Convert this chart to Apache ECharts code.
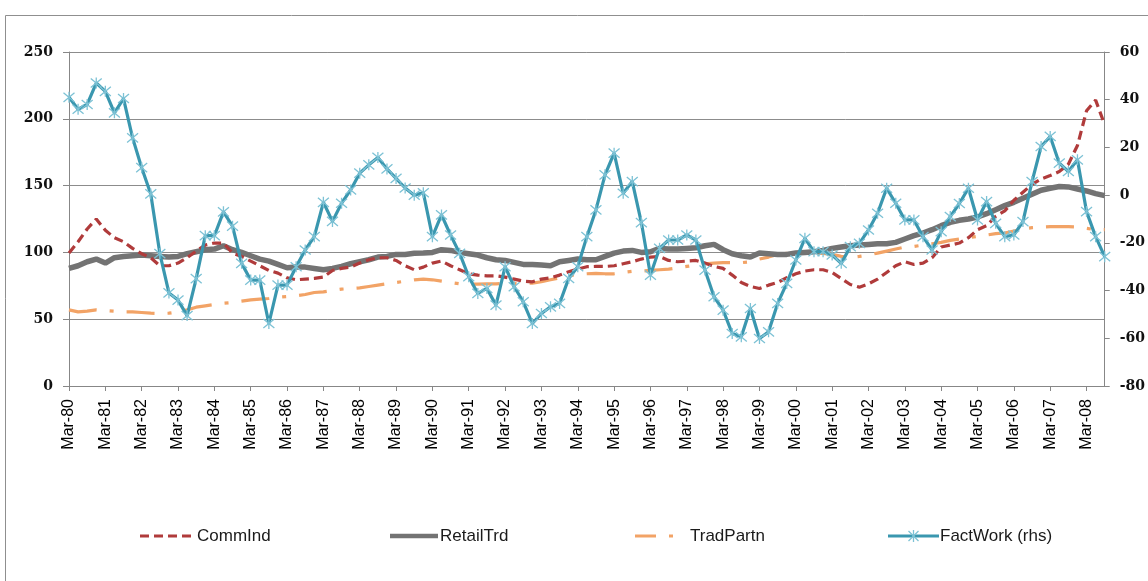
<!DOCTYPE html>
<html>
<head>
<meta charset="utf-8">
<script src="https://cdn.jsdelivr.net/npm/echarts@6/dist/echarts.min.js"></script>
<style>
  html, body { margin: 0; padding: 0; background: #fff; }
  #chart { width: 1148px; height: 581px; }
</style>
</head>
<body>
<div id="chart"></div>
<script>
// Quarterly labels, Mar-80 through Sep-08
const quarterMonths = ['Mar', 'Jun', 'Sep', 'Dec'];
const firstYear = 1980;
const lastYear = 2008;
const lastYearQuarters = 3;
const categories = [];
for (let y = firstYear; y <= lastYear; y++) {
  const n = y === lastYear ? lastYearQuarters : 4;
  for (let q = 0; q < n; q++) {
    categories.push(quarterMonths[q] + '-' + String(y % 100).padStart(2, '0'));
  }
}

// Left-hand scale series
const commInd = [
  99.5, 108, 117.5, 125, 116.5, 111, 108, 103, 99, 96,
  90, 90, 92, 96, 101, 105.5, 107, 107, 99.5, 97,
  93.5, 90, 86.5, 84.5, 81, 79.5, 80, 80.5, 81.5, 86.5,
  88, 89, 92, 94.5, 96, 96, 94, 90, 87, 89,
  92, 93.5, 90, 87, 84, 83, 82.5, 82.5, 81.5, 80,
  78.5, 78, 80, 81, 83, 85.5, 87.5, 89.3, 89.5, 89.5,
  90, 91.5, 93, 95, 96.5, 97, 94, 93, 93.5, 94,
  92, 89.5, 88, 83, 77.5, 74.5, 73, 75.5, 77.5, 81,
  84, 86, 87, 87, 85, 80.5, 76, 74, 76.5, 80,
  85, 90, 93, 91, 92, 96, 104, 105.5, 107, 111,
  117, 120, 127, 131, 139, 145, 151, 155, 157.5, 160.5,
  166, 180, 206, 214, 195.5
];
const retailTrd = [
  88, 90, 93, 95, 92, 96, 97, 97.5, 98, 97.5,
  97, 96.5, 97, 99, 100.5, 102, 102.5, 105, 102, 100,
  97.5, 95, 93.5, 91, 88.5, 89, 89, 88, 87, 88,
  89.5, 91.5, 93, 94.5, 96.5, 97, 98.5, 98.5, 99.3, 99.5,
  100, 102, 101.5, 100, 99, 98, 96, 94.5, 94, 92.5,
  91, 91, 90.5, 90, 93, 94, 95, 94.5, 94.5, 97,
  99.5, 101, 101.5, 100, 100.5, 103, 102.5, 102.5, 103, 103.5,
  105, 106, 102, 99, 97.5, 96.5, 99.5, 99, 98.5, 98.5,
  99.5, 100, 100.5, 101.5, 103, 104, 105, 105.5, 106, 106.5,
  106.5, 107.5, 110, 112.5, 114.5, 117, 120, 122.5, 124, 125,
  126.5, 129, 132, 135, 137.5, 140.5, 143.5, 146.5, 148, 149.3,
  149, 147.5, 146, 144, 142.5
];
const tradPartn = [
  57, 55.5, 56, 57, 56.5, 56, 55.5, 55.5, 55, 54.5,
  54.3, 54.5, 55.5, 57, 59, 60, 61, 62, 62.5, 63.5,
  64.5, 65, 65.5, 66.5, 67, 67.5, 68.5, 70, 70.5, 71.5,
  72.5, 73, 73.5, 74.5, 75.5, 76.5, 77.5, 78.5, 79.5, 80,
  79.5, 78.5, 77.5, 76.5, 76.3, 76.3, 76.5, 76.5, 76.8, 76.8,
  76.8, 77, 78, 79.5, 81, 82.5, 83.5, 84, 84.3, 84,
  84, 85, 85.8, 86, 86.5, 87, 87.5, 88.5, 89.5, 90.5,
  91.5, 92, 92.3, 92.3, 92.3, 93, 95, 96.5, 98.5, 99.3,
  99.3, 99.3, 99.3, 99.3, 98.5, 97, 96.3, 97, 98, 99.5,
  101, 102.5, 104, 104.5, 105.5, 106.5, 107.5, 109, 110, 111,
  112, 113, 114, 114.5, 116, 117.5, 118.5, 119, 119.3, 119.3,
  119.3, 119, 118, 117, 117
];
// Right-hand scale series
const factWork = [
  41, 36, 38, 47, 43.5, 34.5, 40.5, 24, 11.5, 0.5,
  -24.5, -41, -44, -50.5, -35, -17, -17, -7, -13, -28.6,
  -35.6, -35.6, -53.8, -37.7, -37.7, -30, -23, -17.4, -3, -11,
  -3.4, 2.2, 9.2, 12.7, 15.8, 11, 7, 3, 0, 1,
  -17.4, -8.3, -16.7, -24.4, -34.2, -41.2, -39.1, -46.1, -30, -38.4,
  -44.7, -53.8, -49.6, -46.8, -45.4, -34.9, -30, -17.4, -6.2, 8.5,
  17.6, 0.8, 5.7, -11.5, -33.5, -22.3, -18.8, -18.8, -16.7, -18.8,
  -31.4, -42.6, -48.2, -58, -59.4, -47.5, -60.1, -57.3, -45.4, -37,
  -27.2, -18.1, -23.7, -23.7, -25.1, -28.6, -21.6, -20.2, -14.6, -7.6,
  2.9, -3.4, -10.4, -10.4, -17.4, -23, -15.3, -9, -3.5, 2.9,
  -10.4, -2.7, -11.8, -17.4, -16.7, -11.1, 5.7, 20.4, 24.6, 13.4,
  9.9, 14.8, -6.9, -17.4, -25.8
];

const seriesNames = ['CommInd', 'RetailTrd', 'TradPartn', 'FactWork (rhs)'];

const C_RED = '#B03B3B';
const C_GRAY = '#737373';
const C_ORANGE = '#F2A366';
const C_TEAL = '#3A97AF';
const C_TEAL_MARK = '#7DC2D5';
const AXIS_GRAY = '#878787';
const STAR = 'path://M0,0L10,10M10,0L0,10M5,-1L5,11';

const axisFont = { fontFamily: 'DejaVu Serif', fontWeight: 'bold', fontSize: 14, color: '#111' };

const chart = echarts.init(document.getElementById('chart'), null, { renderer: 'canvas' });

const legendY = 536;
function legendText(x, text) {
  return { type: 'text', x: x, y: legendY, silent: true,
    style: { text: text, fontFamily: 'Liberation Sans', fontSize: 17, fill: '#1a1a1a',
      textAlign: 'left', textVerticalAlign: 'middle' } };
}
function legendLine(x1, x2, style) {
  return { type: 'line', silent: true,
    shape: { x1: x1, y1: legendY, x2: x2, y2: legendY }, style: style };
}
function legendStar(cx) {
  const s = { stroke: C_TEAL_MARK, lineWidth: 1.3 };
  return [
    { type: 'line', silent: true, shape: { x1: cx - 5, y1: legendY - 5, x2: cx + 5, y2: legendY + 5 }, style: s },
    { type: 'line', silent: true, shape: { x1: cx + 5, y1: legendY - 5, x2: cx - 5, y2: legendY + 5 }, style: s },
    { type: 'line', silent: true, shape: { x1: cx, y1: legendY - 6, x2: cx, y2: legendY + 6 }, style: s }
  ];
}

const option = {
  animation: false,
  backgroundColor: '#fff',
  grid: { left: 69, right: 43, top: 52, bottom: 195, containLabel: false },
  xAxis: {
    type: 'category',
    data: categories,
    boundaryGap: false,
    axisLine: { onZero: false, lineStyle: { color: AXIS_GRAY, width: 1 } },
    axisTick: { show: true, interval: 3, length: 5, lineStyle: { color: AXIS_GRAY } },
    axisLabel: { interval: 3, rotate: 90, margin: 13, fontFamily: 'Liberation Sans', fontSize: 16, color: '#000' },
    splitLine: { show: false }
  },
  yAxis: [
    {
      type: 'value', min: 0, max: 250, interval: 50, position: 'left',
      axisLine: { show: true, lineStyle: { color: AXIS_GRAY } },
      axisTick: { show: true, length: 6, lineStyle: { color: AXIS_GRAY } },
      axisLabel: Object.assign({ margin: 16 }, axisFont),
      splitLine: { show: true, lineStyle: { color: '#8c8c8c', width: 1 } }
    },
    {
      type: 'value', min: -80, max: 60, interval: 20, position: 'right',
      axisLine: { show: true, lineStyle: { color: AXIS_GRAY } },
      axisTick: { show: true, length: 5, lineStyle: { color: AXIS_GRAY } },
      axisLabel: Object.assign({ margin: 15 }, axisFont),
      splitLine: { show: false }
    }
  ],
  series: [
    {
      name: seriesNames[2], type: 'line', data: tradPartn, yAxisIndex: 0,
      symbol: 'none', lineStyle: { color: C_ORANGE, width: 3.2, type: [28, 13, 4, 13] },
      itemStyle: { color: C_ORANGE }, z: 2
    },
    {
      name: seriesNames[1], type: 'line', data: retailTrd, yAxisIndex: 0,
      symbol: 'none', lineStyle: { color: C_GRAY, width: 5.5 },
      itemStyle: { color: C_GRAY }, z: 3
    },
    {
      name: seriesNames[0], type: 'line', data: commInd, yAxisIndex: 0,
      symbol: 'none', lineStyle: { color: C_RED, width: 3.2, type: [9, 5] },
      itemStyle: { color: C_RED }, z: 4
    },
    {
      name: seriesNames[3], type: 'line', data: factWork, yAxisIndex: 1,
      symbol: STAR, symbolSize: 11, showAllSymbol: true,
      lineStyle: { color: C_TEAL, width: 3.2 },
      itemStyle: { color: 'rgba(0,0,0,0)', borderColor: C_TEAL_MARK, borderWidth: 1.3 },
      z: 5
    }
  ],
  graphic: [
    // chart frame
    { type: 'rect', silent: true, z: -10,
      shape: { x: 5.5, y: 15.5, width: 1200, height: 700 },
      style: { fill: 'none', stroke: '#8f8f8f', lineWidth: 1 } },
    // legend entries
    legendLine(140, 195, { stroke: C_RED, lineWidth: 3, lineDash: [9, 5] }),
    legendText(197, seriesNames[0]),
    legendLine(390, 438, { stroke: C_GRAY, lineWidth: 4.5 }),
    legendText(440, seriesNames[1]),
    legendLine(635, 656, { stroke: C_ORANGE, lineWidth: 3 }),
    legendLine(669, 673, { stroke: C_ORANGE, lineWidth: 3 }),
    legendText(690, seriesNames[2]),
    legendLine(888, 939, { stroke: C_TEAL, lineWidth: 3 })
  ].concat(legendStar(913.5), [legendText(940, seriesNames[3])])
};

chart.setOption(option);
</script>
</body>
</html>
